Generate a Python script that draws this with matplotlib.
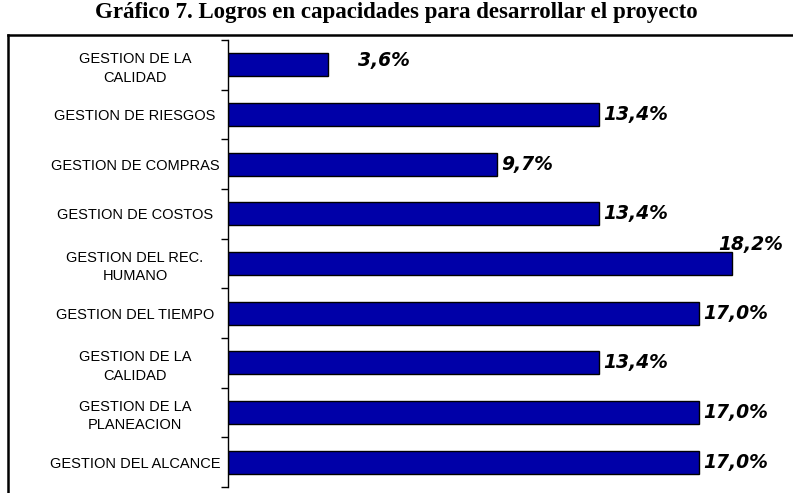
import matplotlib.pyplot as plt
from matplotlib.lines import Line2D

# data, top to bottom as in the chart
categorias = ["GESTION DE LA\nCALIDAD", "GESTION DE RIESGOS", "GESTION DE COMPRAS",
              "GESTION DE COSTOS", "GESTION DEL REC.\nHUMANO", "GESTION DEL TIEMPO",
              "GESTION DE LA\nCALIDAD", "GESTION DE LA\nPLANEACION", "GESTION DEL ALCANCE"]
valores = [3.6, 13.4, 9.7, 13.4, 18.2, 17.0, 13.4, 17.0, 17.0]
etiquetas = ["3,6%", "13,4%", "9,7%", "13,4%", "18,2%", "17,0%", "13,4%", "17,0%", "17,0%"]

fig = plt.figure(figsize=(7.93, 4.93), dpi=100)
fig.suptitle("Gráfico 7. Logros en capacidades para desarrollar el proyecto",
             family="Liberation Serif", fontweight="bold", fontsize=16.5, y=0.995)

# outer frame (left and top only, rest is cut off)
fig.add_artist(Line2D([8/793, 8/793], [0, 1 - 35/493], color="black", lw=1.8))
fig.add_artist(Line2D([8/793, 1], [1 - 35/493, 1 - 35/493], color="black", lw=1.8))

ax = fig.add_axes([228/793, 6/493, 554/793, 447/493])
n = len(valores)
pos = list(range(n))
ax.barh(pos, valores, height=0.46, color="#0000A8", edgecolor="black", linewidth=1)
ax.set_ylim(n - 0.5, -0.5)
ax.set_xlim(0, 20)

ax.set_yticks(pos)
ax.set_yticklabels(categorias, family="Liberation Sans", fontsize=10.5, ha="center",
                   multialignment="center", linespacing=1.4)
ax.tick_params(axis="y", which="major", length=0, pad=67)
ax.set_yticks([p - 0.5 for p in range(n + 1)], minor=True)
ax.tick_params(axis="y", which="minor", length=5, width=1, direction="out")
ax.set_xticks([])
for s in ["top", "right", "bottom"]:
    ax.spines[s].set_visible(False)
ax.spines["left"].set_linewidth(1)

for i, (v, t) in enumerate(zip(valores, etiquetas)):
    dx, dy = 3, 0
    if i == 0:
        dx, dy = 22, 3
    if i == 4:
        dx, dy = -10, 14
    ax.annotate(t, (v, i), xytext=(dx, dy), textcoords="offset points",
                ha="left", va="center", family="DejaVu Sans", fontweight="bold",
                style="italic", fontsize=13.5)

fig.savefig("out.png", dpi=100)
